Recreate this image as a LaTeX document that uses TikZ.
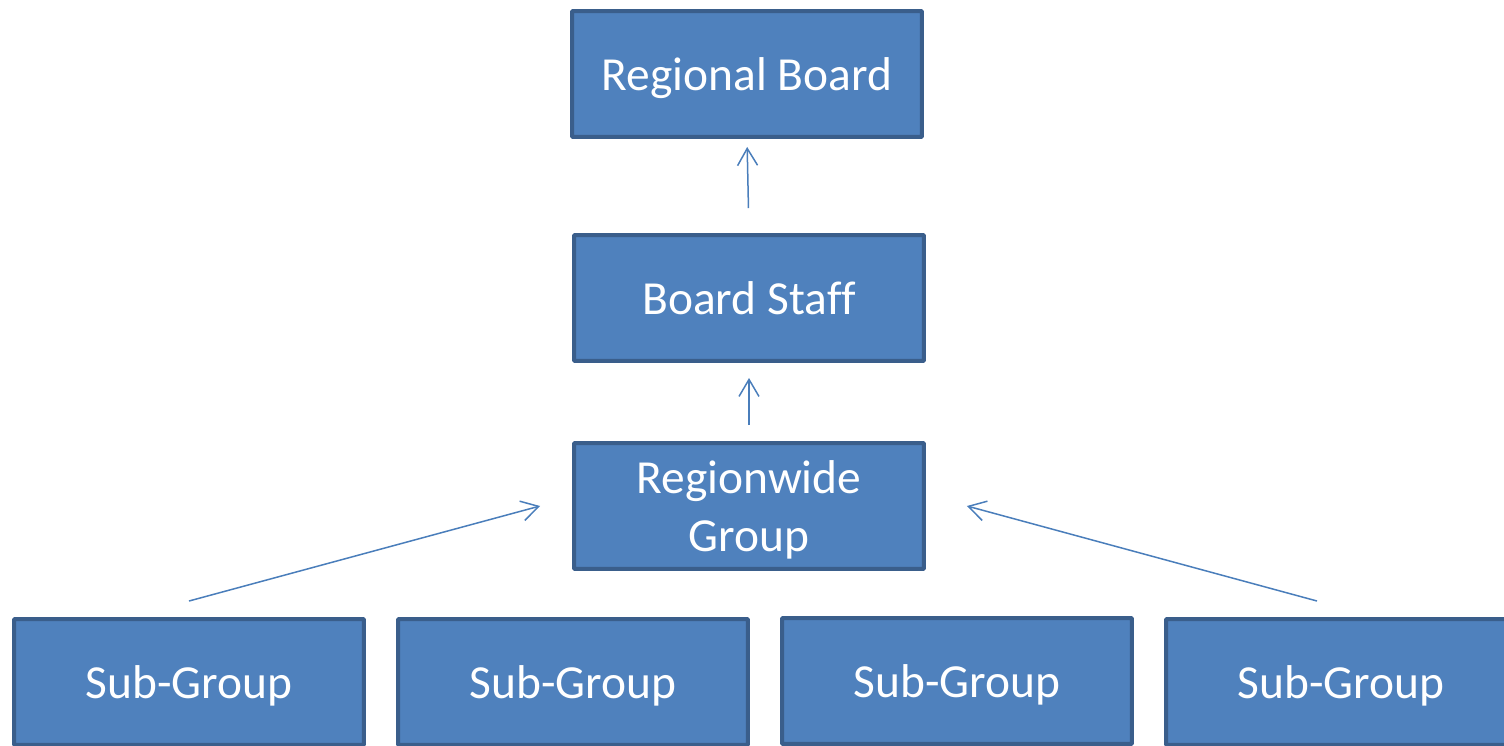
\documentclass[tikz,border=0pt]{standalone}
\usepackage{fontspec}
\setmainfont{Carlito}[Ligatures=NoCommon]
\usepackage{tikz}
\usetikzlibrary{arrows.meta,positioning}

\definecolor{boxfill}{HTML}{4F81BD}
\definecolor{boxline}{HTML}{3A5E8B}
\definecolor{linkblue}{HTML}{4A7EBB}

\begin{document}
\begin{tikzpicture}[x=0.02cm, y=-0.02cm,
    block/.style={rectangle, draw=boxline, line width=0.08cm, fill=boxfill, text=white,
      minimum width=7.0cm, minimum height=2.52cm, align=center, text depth=0pt,
      font=\fontsize{27}{33}\selectfont, rounded corners=0.5pt},
    arrow/.style={-{Straight Barb[length=0.34cm,width=0.4cm]}, draw=linkblue, line width=0.03cm}]

\useasboundingbox (0,0) rectangle (1504,746);

% Blocks
\node[block] (board) at (747,74) {Regional Board};
\node[block] (staff) at (749,298) {Board Staff};
\node[block] (region) at (749,506) {Regionwide\\Group};
\node[block] (sub1) at (189,682) {Sub-Group};
\node[block] (sub2) at (573,682) {Sub-Group};
\node[block] (sub3) at (957,681) {Sub-Group};
\node[block] (sub4) at (1341,682) {Sub-Group};

% Free ends of the slanted links
\coordinate (left start) at ([yshift=0.32cm]sub1.north);
\coordinate (left end) at ([xshift=-0.64cm]region.west);
\coordinate (right start) at ([xshift=-0.48cm, yshift=0.32cm]sub4.north);
\coordinate (right end) at ([xshift=0.82cm]region.east);

% Connections
\draw[arrow, shorten <=0.5cm, shorten >=0.16cm] (staff.north) -- (board.south);
\draw[arrow, shorten <=0.32cm, shorten >=0.3cm] (region.north) -- (staff.south);
\draw[arrow] (left start) -- (left end);
\draw[arrow] (right start) -- (right end);
\end{tikzpicture}
\end{document}
